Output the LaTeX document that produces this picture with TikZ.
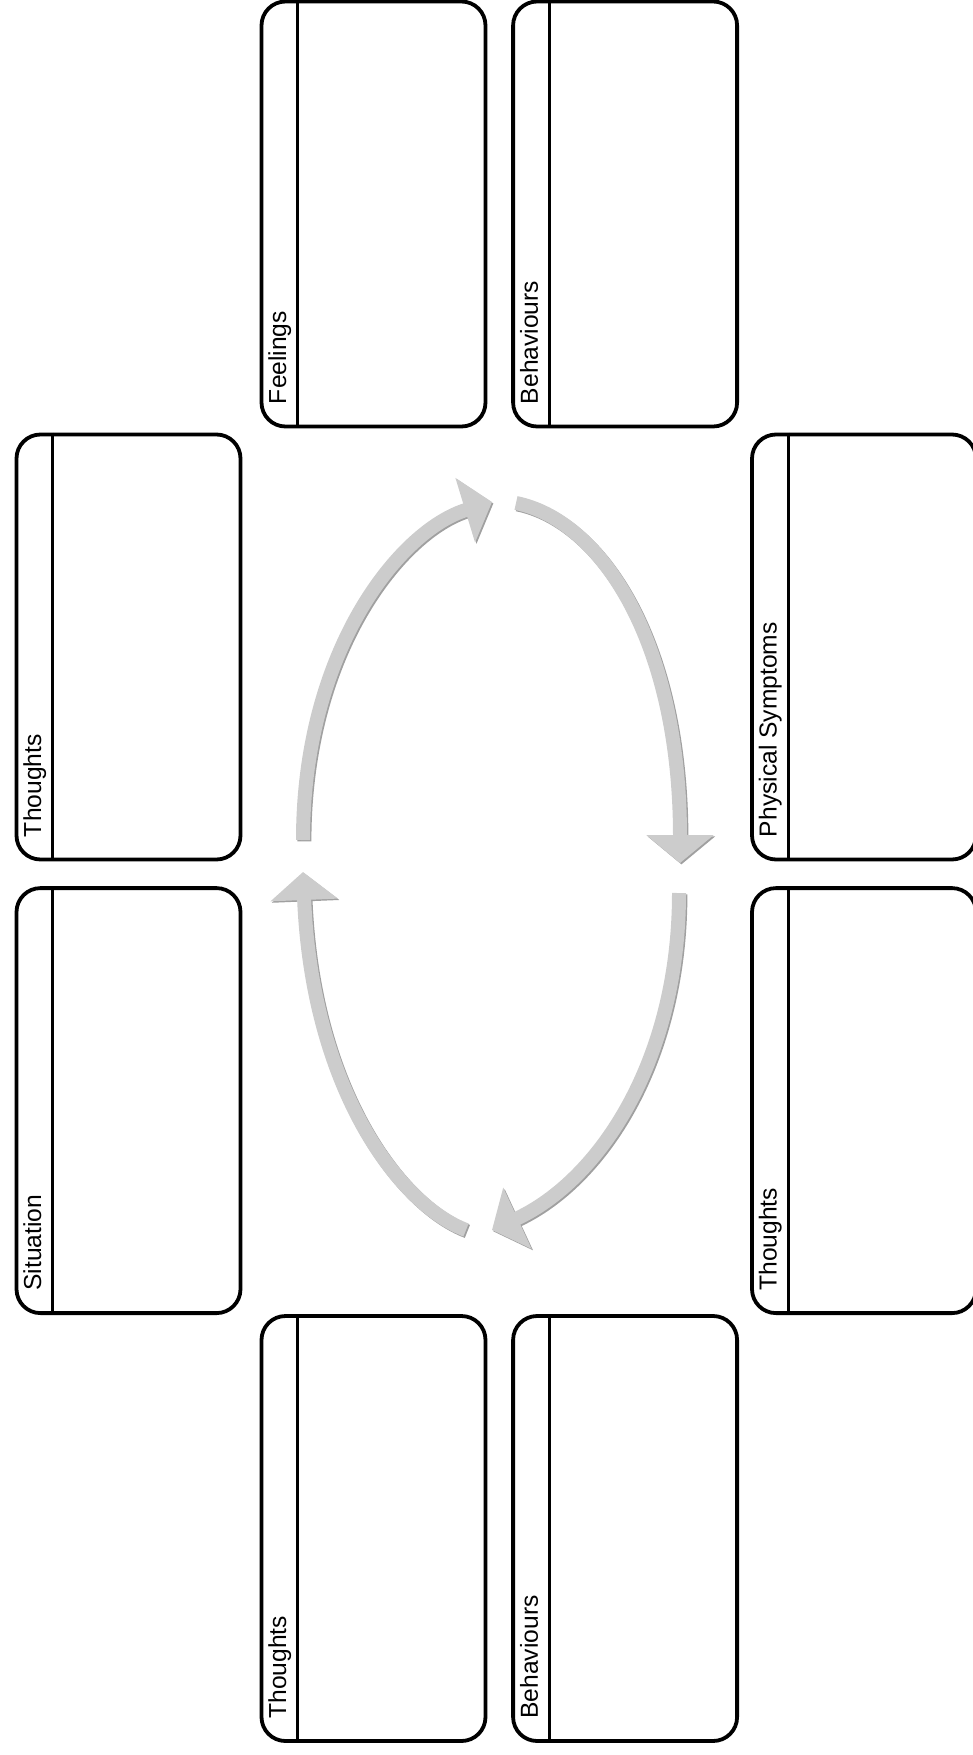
\documentclass[tikz,border=0pt]{standalone}
\usepackage{fontspec}
\setmainfont{Liberation Sans}
\usepackage{xcolor}
\usetikzlibrary{arrows.meta,positioning,calc}
\definecolor{Cgrey}{RGB}{204,204,204}
\definecolor{Cshade}{RGB}{160,160,160}
\tikzset{
  card/.style={draw, rounded corners=12pt, line width=1.9pt, minimum width=112pt, minimum height=212.5pt, inner sep=0pt},
  divline/.style={line width=1.5pt},
  cardtext/.style={rotate=90, anchor=base west, inner sep=0pt, font=\fontsize{12.3}{14}\selectfont},
  cycarrow/.style={line width=7pt, draw=Cgrey, -{Triangle[length=14pt,width=33pt]}},
  cycshade/.style={line width=7pt, draw=Cshade, -{Triangle[length=14pt,width=33pt]}, transform canvas={shift={(0.7pt,-0.7pt)}}}
}
\begin{document}
\begin{tikzpicture}[x=0.5pt,y=-0.5pt]
  \useasboundingbox (0,0) rectangle (973,1755);

  % boxes
  \node[card] (feel) at (373.5,214) {};
  \node[card, right=11.9pt of feel] (behA) {};
  \node[card] (thoA) at (128.5,647) {};
  \node[card, below=12.4pt of thoA] (situ) {};
  \node[card] (phys) at (864,647) {};
  \node[card, below=12.4pt of phys] (thoB) {};
  \node[card] (thoC) at (373.5,1528.5) {};
  \node[card, right=11.9pt of thoC] (behB) {};

  \foreach \b/\t in {feel/Feelings, behA/Behaviours, thoA/Thoughts, situ/Situation,
                     phys/Physical Symptoms, thoB/Thoughts, thoC/Thoughts, behB/Behaviours} {
    \draw[divline] ([xshift=19pt]\b.north west) -- ([xshift=19pt]\b.south west);
    \node[cardtext] (\b-t) at ([xshift=13.3pt,yshift=12pt]\b.south west) {\t};
  }

  % cycle arrows
  \coordinate (up0) at (303,840);
  \coordinate (up1) at (492,502);
  \coordinate (rt0) at (516,503);
  \coordinate (rt1) at (680,863);
  \coordinate (dn0) at (679,893);
  \coordinate (dn1) at (492,1230);
  \coordinate (lf0) at (466,1230);
  \coordinate (lf1) at (303,872);

  \draw[cycshade] (up0) .. controls (303,650) and (400,530) .. (up1);
  \draw[cycshade] (rt0) .. controls (600,520) and (680,640) .. (rt1);
  \draw[cycshade] (dn0) .. controls (679,1060) and (600,1180) .. (dn1);
  \draw[cycshade] (lf0) .. controls (400,1205) and (312,1090) .. (lf1);

  \draw[cycarrow] (up0) .. controls (303,650) and (400,530) .. (up1);
  \draw[cycarrow] (rt0) .. controls (600,520) and (680,640) .. (rt1);
  \draw[cycarrow] (dn0) .. controls (679,1060) and (600,1180) .. (dn1);
  \draw[cycarrow] (lf0) .. controls (400,1205) and (312,1090) .. (lf1);
\end{tikzpicture}
\end{document}
